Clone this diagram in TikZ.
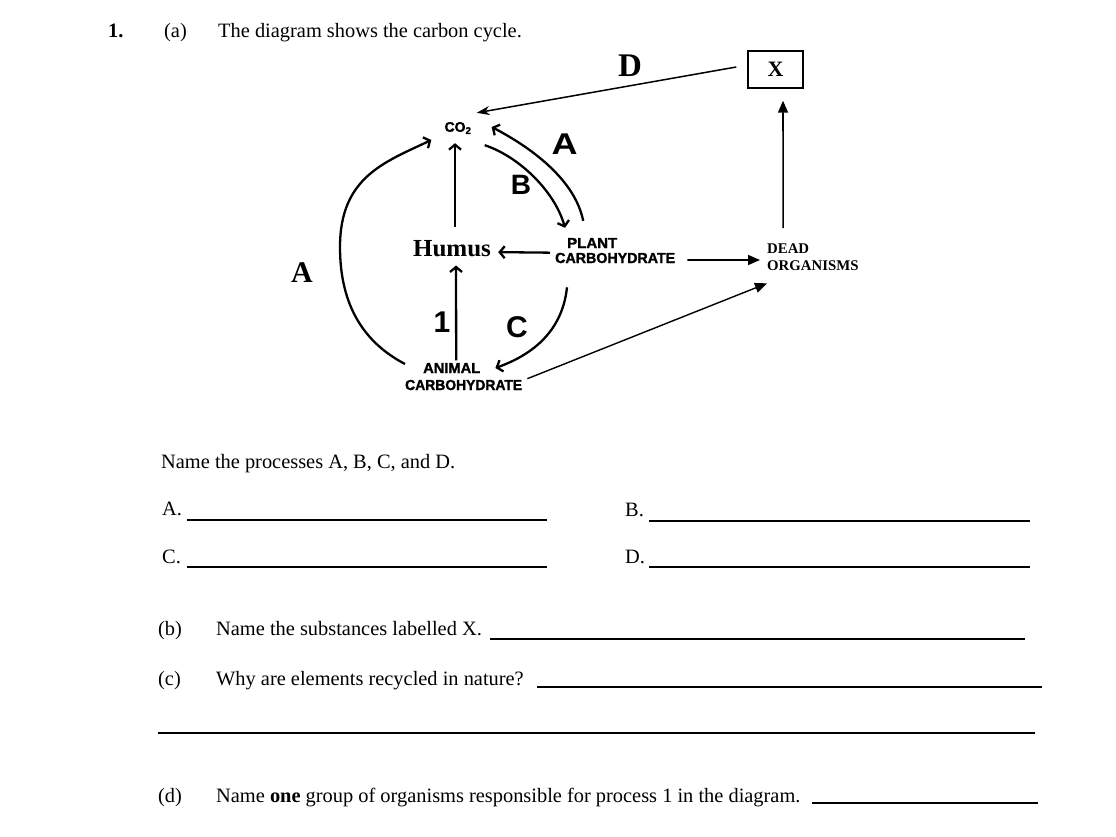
\documentclass[tikz,border=0pt]{standalone}
\usepackage{graphicx}
\usepackage{fontspec}
\setmainfont{Liberation Serif}
\setsansfont{Liberation Sans}
\newfontfamily\heavysans[BoldFeatures={FakeBold=1.6}]{Liberation Sans}
\usetikzlibrary{arrows.meta,calc}
\newcommand{\fitw}[2]{\resizebox{#1pt}{\height}{#2}}
\begin{document}
\begin{tikzpicture}[x=1pt,y=-1pt,
  txt/.style={inner sep=0pt, anchor=base west, font=\fontsize{20.4}{24}\selectfont},
  lab/.style={inner sep=0pt, anchor=base west},
  sanslab/.style={inner sep=0pt, anchor=base west, font=\heavysans\bfseries\fontsize{14.5}{16}\selectfont},
  seriflab/.style={inner sep=0pt, anchor=base west, font=\bfseries\fontsize{14.8}{16}\selectfont},
  biglet/.style={inner sep=0pt, anchor=base, font=\sffamily\bfseries\fontsize{30}{32}\selectfont},
  ans/.style={line width=1.1pt},
  cyc/.style={line width=2.3pt, -{Straight Barb[length=5pt,width=12pt]}},
  fil/.style={line width=1.6pt, -{Triangle[length=12pt,width=10pt]}},
  dline/.style={line width=1.5pt, -{Stealth[length=13pt,width=9pt]}}]
\fill[white] (0,0) rectangle (1116,837);
\useasboundingbox (0,0) rectangle (1116,837);

% header
\node[txt, font=\fontsize{20.4}{24}\selectfont\bfseries] (q1) at (108,38) {1.};
\node[txt] (qa) at (164,38) {(a)};
\node[txt] (title) at (218,38) {The diagram shows the carbon cycle.};

% diagram nodes
\node[lab, font=\fontsize{33}{36}\selectfont\bfseries] (D) at (618,77) {D};
\node[draw, line width=1.4pt, minimum width=55pt, minimum height=37pt, inner sep=0pt,
      font=\fontsize{22}{24}\selectfont\bfseries] (xbox) at (775.5,69.5) {X};
\node[inner sep=0pt, font=\heavysans\bfseries\fontsize{14}{16}\selectfont] (co2) at (458,128) {CO\textsubscript{2}};
\node[lab, anchor=base, font=\fontsize{24.5}{26}\selectfont\bfseries] (humus) at (452,257) {\fitw{78}{Humus}};
\node[sanslab] (plantT) at (567,248) {\fitw{50}{PLANT}};
\node[sanslab] (plant) at (555,263) {\fitw{120}{CARBOHYDRATE}};
\node[sanslab] (animalT) at (423,373) {\fitw{57}{ANIMAL}};
\node[sanslab] (animal) at (405,390) {\fitw{117}{CARBOHYDRATE}};
\node[seriflab] (deadT) at (767,253) {DEAD};
\node[seriflab] (dead) at (767,270) {ORGANISMS};

% process letters
\node[lab, anchor=base, font=\fontsize{30}{32}\selectfont\bfseries] (Aleft) at (302,282) {A};
\node[biglet] (Aright) at (564.5,155) {\fitw{26}{A}};
\node[biglet, font=\sffamily\bfseries\fontsize{28}{30}\selectfont] (Blet) at (521,195) {B};
\node[biglet] (Clet) at (517,337) {C};
\node[biglet] (onelet) at (442,332) {1};

% connectors
\draw[dline] ($(xbox.west)+(-11,-2.5)$) -- ($(co2.north east)+(5,-9)$);
\draw[fil] ($(deadT.north)+(-5,-15)$) -- ($(xbox.south)+(7.5,12)$);
\draw[fil] ($(plant.east)+(12,2)$) -- ($(dead.north west)+(-7,0)$);
\draw[fil, line width=1.4pt] ($(animal.north east)+(5,-1)$) -- ($(dead.south west)+(0,13)$);
\draw[cyc] ($(plant.north west)+(-5,0)$) -- ($(humus.east)+(7,3)$);
\draw[cyc] ($(humus.north)+(3,-14)$) -- ($(co2.south)+(-3,9)$);
\draw[cyc] ($(animalT.north)+(4.5,-2.5)$) -- ($(humus.south)+(4,8)$);
\draw[cyc] ($(animalT.west)+(-18,-4)$) .. controls (365,343) and (340,307) .. (340,247)
   .. controls (340,177) and (385,162) .. ($(co2.west)+(-13,12)$);
\draw[cyc] ($(plantT.north)+(-9,-17)$) .. controls (575,180) and (532,148) .. ($(co2.east)+(20,-1)$);
\draw[cyc] ($(co2.south east)+(13,11)$) .. controls (520,157) and (555,192) .. ($(plantT.north west)+(-2,-10)$);
\draw[cyc] ($(plant.south west)+(12,24)$) .. controls (563,325) and (540,352) .. ($(animalT.east)+(15,0)$);

% questions
\node[txt] (name) at (161,468) {Name the processes A, B, C, and D.};
\node[txt] (ansA) at (162,515) {A.};
\draw[ans] (187,520) -- (547,520);
\node[txt] (ansC) at (162,563) {C.};
\draw[ans] (187,567) -- (547,567);
\node[txt] (ansB) at (625,516) {B.};
\draw[ans] (649,521) -- (1030,521);
\node[txt] (ansD) at (625,563) {D.};
\draw[ans] (649,567) -- (1030,567);

\node[txt] (qb) at (158,635) {(b)};
\node[txt] (qbt) at (216,635) {Name the substances labelled X.};
\draw[ans] (490,639) -- (1025,639);
\node[txt] (qc) at (158,685) {(c)};
\node[txt] (qct) at (216,685) {Why are elements recycled in nature?};
\draw[ans] (537,687) -- (1042,687);
\draw[ans] (158,733) -- (1035,733);
\node[txt] (qd) at (158,802) {(d)};
\node[txt] (qdt) at (216,802) {Name \textbf{one} group of organisms responsible for process 1 in the diagram.};
\draw[ans] (812,803) -- (1038,803);
\end{tikzpicture}
\end{document}
